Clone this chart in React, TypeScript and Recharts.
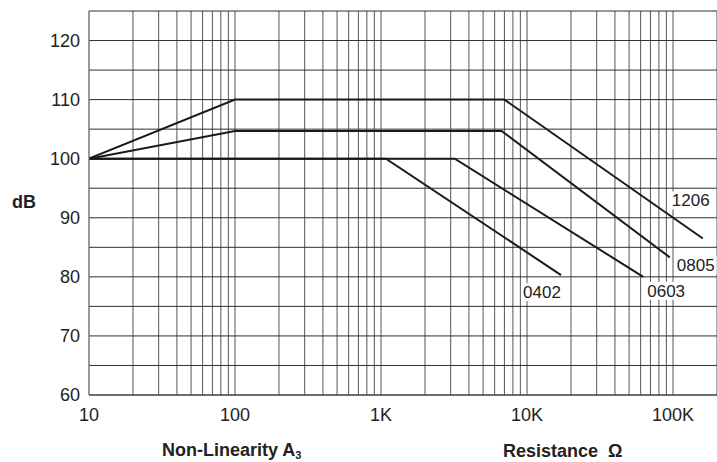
import React from 'react';
import { LineChart, Line, XAxis, YAxis, CartesianGrid, ReferenceDot } from 'recharts';

// ---- axis ticks ----
const xGridTicks = [
  10, 20, 30, 40, 50, 60, 70, 80, 90,
  100, 200, 300, 400, 500, 600, 700, 800, 900,
  1000, 2000, 3000, 4000, 5000, 6000, 7000, 8000, 9000,
  10000, 20000, 30000, 40000, 50000, 60000, 70000, 80000, 90000,
  100000,
];
const xLabelTicks = [10, 100, 1000, 10000, 100000];
const xLabelTexts = ['10', '100', '1K', '10K', '100K'];
const yGridTicks = [60, 65, 70, 75, 80, 85, 90, 95, 100, 105, 110, 115, 120, 125];
const yLabelTicks = [60, 70, 80, 90, 100, 110, 120];

// ---- series (Resistance Ω, dB) ----
const series0402 = [
  { x: 10, y: 100 },
  { x: 1080, y: 100 },
  { x: 17100, y: 80.3 },
];
const series0603 = [
  { x: 10, y: 100 },
  { x: 3200, y: 100 },
  { x: 62500, y: 80 },
];
const series0805 = [
  { x: 10, y: 100 },
  { x: 100, y: 104.7 },
  { x: 6700, y: 104.7 },
  { x: 95000, y: 83.3 },
];
const series1206 = [
  { x: 10, y: 100 },
  { x: 100, y: 110 },
  { x: 7000, y: 110 },
  { x: 160000, y: 86.5 },
];
const seriesNames = ['0402', '0603', '0805', '1206'];
const seriesData = [series0402, series0603, series0805, series1206];

// label offsets (pixels) relative to each series' end point
const labelOffsets = [
  { dx: -38, dy: 23 },
  { dx: 4, dy: 20 },
  { dx: 7, dy: 13.5 },
  { dx: -31, dy: -32 },
];

const FONT = '"Liberation Sans", Arial, Helvetica, sans-serif';
const TEXT = '#222';

const makeLabelShape = (text: string, dx: number, dy: number) => (props: any) => {
  const { cx, cy } = props;
  const fs = 17;
  const w = text.length * 0.556 * fs;
  const x = cx + dx;
  const y = cy + dy;
  return (
    <g>
      <rect x={x - 2} y={y - 15} width={w + 4} height={18} fill="#fff" />
      <text x={x} y={y} fontSize={fs} fill={TEXT} fontFamily={FONT}>
        {text}
      </text>
    </g>
  );
};

export default function App() {
  return (
    <div style={{ position: 'absolute', left: 0, top: 0, width: 717, height: 462, background: '#fff' }}>
      <LineChart width={717} height={462} margin={{ top: 11, right: 0, bottom: 0, left: 0 }}>
        <CartesianGrid horizontal={false} stroke="#555" strokeWidth={1} />
        <CartesianGrid vertical={false} stroke="#2e2e2e" strokeWidth={1} />
        <XAxis
          type="number"
          dataKey="x"
          scale="log"
          domain={[10, 200000]}
          ticks={xGridTicks}
          interval={0}
          allowDataOverflow
          height={67}
          tickSize={0}
          tickMargin={13}
          tickLine={false}
          axisLine={{ stroke: '#444', strokeWidth: 1 }}
          tick={{ fontSize: 18, fill: TEXT, fontFamily: FONT }}
          tickFormatter={(v: number) => {
            const i = xLabelTicks.indexOf(v);
            return i >= 0 ? xLabelTexts[i] : '';
          }}
        />
        <YAxis
          type="number"
          dataKey="y"
          domain={[60, 125]}
          ticks={yGridTicks}
          interval={0}
          allowDataOverflow
          width={89}
          tickSize={0}
          tickMargin={9}
          tickLine={false}
          axisLine={{ stroke: '#888', strokeWidth: 1 }}
          tick={{ fontSize: 18, fill: TEXT, fontFamily: FONT }}
          tickFormatter={(v: number) => (yLabelTicks.includes(v) ? String(v) : '')}
        />
        {seriesData.map((d, i) => (
          <Line
            key={seriesNames[i]}
            data={d}
            dataKey="y"
            type="linear"
            stroke="#1a1a1a"
            strokeWidth={2}
            dot={false}
            activeDot={false}
            isAnimationActive={false}
          />
        ))}
        {seriesData.map((d, i) => {
          const last = d[d.length - 1];
          return (
            <ReferenceDot
              key={'lbl' + seriesNames[i]}
              x={last.x}
              y={last.y}
              r={0}
              ifOverflow="visible"
              shape={makeLabelShape(seriesNames[i], labelOffsets[i].dx, labelOffsets[i].dy)}
            />
          );
        })}
      </LineChart>
      <svg
        width={717}
        height={462}
        style={{ position: 'absolute', left: 0, top: 0, pointerEvents: 'none' }}
      >
        <text x={12} y={208} fontSize={18} fontWeight="bold" fill={TEXT} fontFamily={FONT}>
          dB
        </text>
        <text x={162} y={456} fontSize={18} fontWeight="bold" fill={TEXT} fontFamily={FONT}>
          Non-Linearity A
          <tspan fontSize={11} dy={3}>3</tspan>
        </text>
        <text x={503} y={457} fontSize={18} fontWeight="bold" fill={TEXT} fontFamily={FONT}>
          Resistance
        </text>
        <text x={608} y={457} fontSize={18} fontWeight="bold" fill={TEXT} fontFamily={FONT}>
          Ω
        </text>
      </svg>
    </div>
  );
}
